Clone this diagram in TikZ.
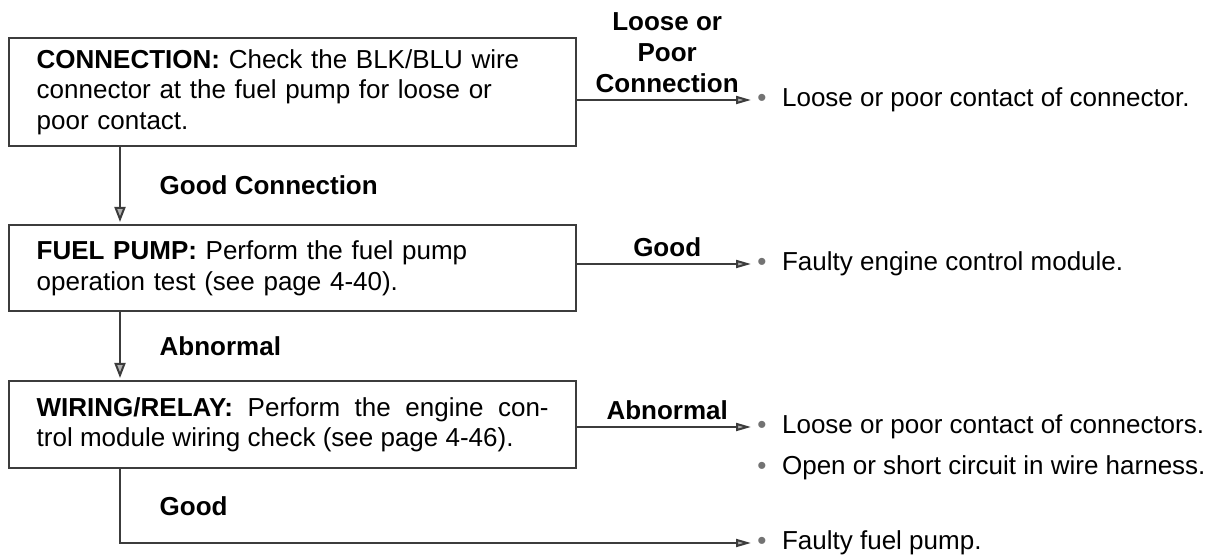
\documentclass[tikz,border=0pt]{standalone}
\usepackage{fontspec}
\setmainfont{Liberation Sans}
\usepackage{xcolor}
\definecolor{scanline}{RGB}{60,60,60}
\usepackage{tikz}
\usetikzlibrary{positioning,arrows.meta,calc}
\newcommand{\itemdot}{{\color{black!55}\textbullet}\hspace{0.6em}}

\begin{document}
\begin{tikzpicture}[x=0.5pt,y=-0.5pt,
      testbox/.style={rectangle,draw=scanline,line width=1.2pt,anchor=north west,minimum width=283.5pt,text width=256pt,inner xsep=13.75pt,inner ysep=0pt,font=\fontsize{13}{15.2}\selectfont,align=left},
      result/.style={anchor=west,inner sep=0pt,font=\fontsize{13}{15}\selectfont},
      lab/.style={font=\fontsize{13}{15.5}\selectfont\bfseries,align=center},
      flow/.style={-{Triangle[length=7.5pt,width=5.5pt,fill=gray!60]},draw=scanline,line width=1pt,shorten >=1pt},
      side/.style={-{Triangle[length=7.5pt,width=4pt,fill=gray!60]},draw=scanline,line width=1pt,shorten >=3pt}]
    \useasboundingbox (0,0) rectangle (1211,555);
    % the three checks, top to bottom
    \node[testbox,minimum height=54pt] (conn) at (8,37)
      {\textbf{CONNECTION:} Check the BLK/BLU wire\\ connector at the fuel pump for loose or\\ poor contact.};
    \node[testbox,minimum height=43pt] (pump) at (8,224)
      {\textbf{FUEL PUMP:} Perform the fuel pump\\ operation test (see page 4-40).};
    \node[testbox,minimum height=43.5pt,align=justify] (relay) at (8,380)
      {\textbf{WIRING/RELAY:} Perform the engine con-\linebreak trol module wiring check (see page 4-46).};
    % results on the right
    \node[result] (r1) at (757,100) {\itemdot Loose or poor contact of connector.};
    \node[result] (r2) at (757,264) {\itemdot Faulty engine control module.};
    \node[result] (r3a) at (757,427) {\itemdot Loose or poor contact of connectors.};
    \node[result] (r3b) at (757,468) {\itemdot Open or short circuit in wire harness.};
    \node[result] (r4) at (757,543) {\itemdot Faulty fuel pump.};
    % branches to the right
    \foreach \b/\r/\t in {conn/r1/{Loose or\\Poor\\Connection}, pump/r2/Good, relay/r3a/Abnormal} {
      \draw[side] (\b.east |- \r.west) -- node[lab,above] {\t} (\r.west);
    }
    % main line down the left
    \coordinate (spine) at (120,0);
    \draw[flow] (conn.south -| spine) -- node[lab,right=16pt,midway] {Good Connection} (pump.north -| spine);
    \draw[flow] (pump.south -| spine) -- node[lab,right=16pt,midway] {Abnormal} (relay.north -| spine);
    \draw[side] (relay.south -| spine) |- node[lab,right=16pt,pos=0.25] {Good} (r4.west);
  \end{tikzpicture}
\end{document}
